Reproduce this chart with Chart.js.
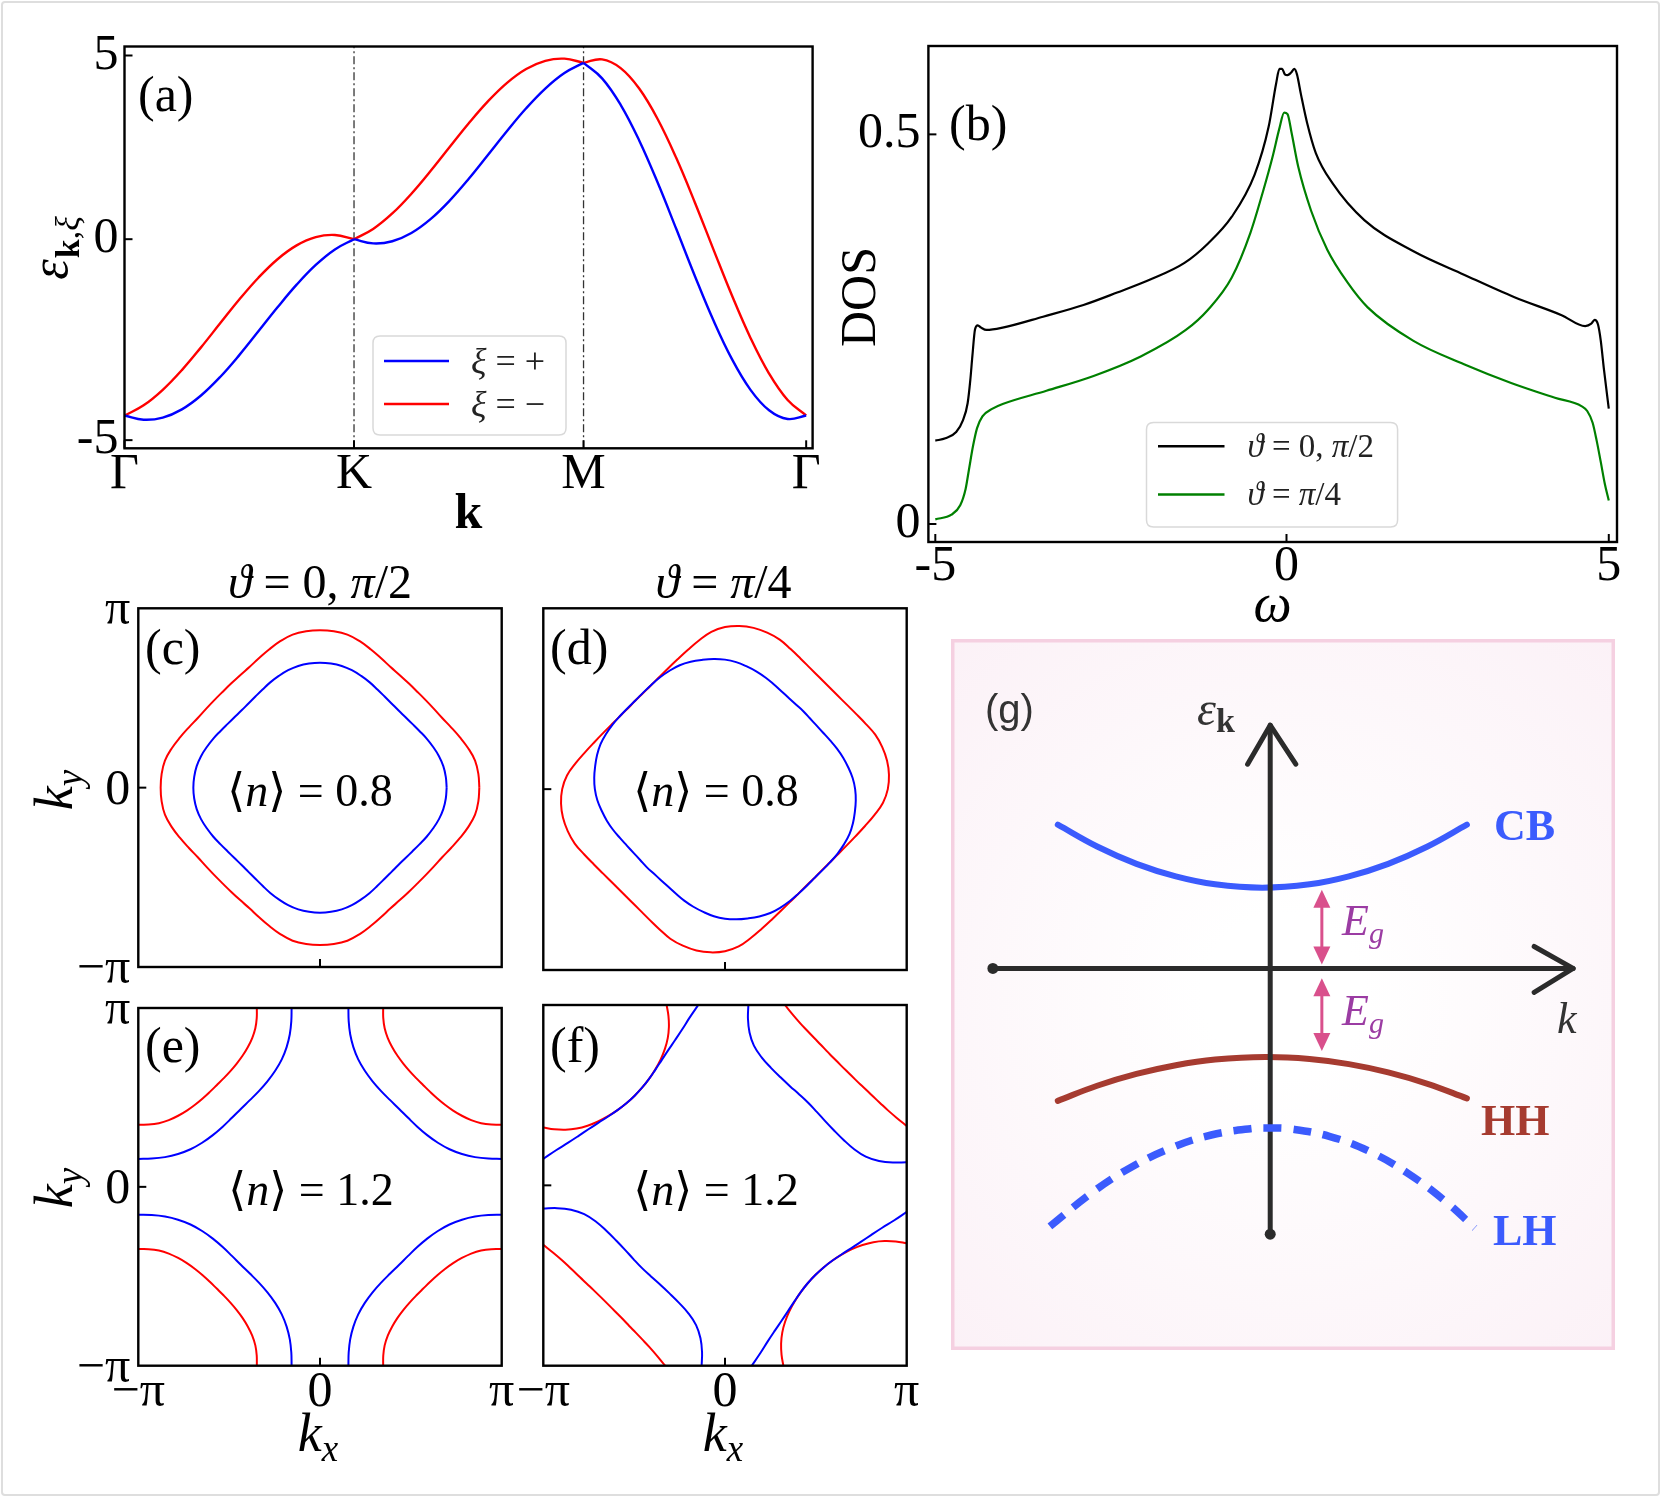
<!DOCTYPE html>
<html>
<head>
<meta charset="utf-8">
<title>Band structure, DOS and Fermi surfaces</title>
<script src="https://cdn.jsdelivr.net/npm/chart.js@4.4.1/dist/chart.umd.min.js"></script>
<style>
html,body{margin:0;padding:0;background:#ffffff;}
body{position:relative;width:1661px;height:1497px;overflow:hidden;}
#frame{position:absolute;left:1px;top:1px;width:1655px;height:1491px;border:2px solid #dedede;border-radius:4px;}
canvas{position:absolute;}
</style>
</head>
<body>
<div id="frame"></div>
<canvas id="ca" width="840" height="545" style="left:0px;top:0px;width:840px;height:545px"></canvas>
<canvas id="cb" width="821" height="640" style="left:840px;top:0px;width:821px;height:640px"></canvas>
<canvas id="cc" width="520" height="450" style="left:0px;top:555px;width:520px;height:450px"></canvas>
<canvas id="cd" width="400" height="450" style="left:520px;top:555px;width:400px;height:450px"></canvas>
<canvas id="ce" width="520" height="527" style="left:0px;top:970px;width:520px;height:527px"></canvas>
<canvas id="cf" width="430" height="527" style="left:500px;top:970px;width:430px;height:527px"></canvas>
<canvas id="cg" width="664" height="711" style="left:951px;top:639px;width:664px;height:711px"></canvas>
<script>
// ---------------- DATA ----------------
// (a) band structure along Γ-K-M-Γ
const aXTicks = [0, 1, 2, 2.97];
const aXLabels = ['Γ', 'K', 'M', 'Γ'];
const aYTicks = [-5.47, 0, 5];
const aYLabels = ['-5', '0', '5'];
const aXMax = 2.998, aYMin = -5.692, aYMax = 5.245;
const bandK = [0,0.0833,0.1667,0.25,0.3333,0.4167,0.5,0.5833,0.6667,0.75,0.8333,0.9167,1,
  1.0833,1.1667,1.25,1.3333,1.4167,1.5,1.5833,1.6667,1.75,1.8333,1.9167,2,
  2.0808,2.1617,2.2425,2.3233,2.4042,2.485,2.5658,2.6467,2.7275,2.8083,2.8892,2.97];
const bandPlus = [-4.8,-4.914,-4.856,-4.632,-4.255,-3.751,-3.156,-2.509,-1.855,-1.238,-0.7,-0.278,0,
  -0.114,-0.056,0.168,0.545,1.049,1.644,2.291,2.945,3.563,4.1,4.523,4.8,
  4.378,3.657,2.687,1.534,0.276,-1.0,-2.208,-3.266,-4.101,-4.657,-4.895,-4.8];
const bandMinus = [-4.8,-4.523,-4.1,-3.563,-2.945,-2.291,-1.644,-1.049,-0.545,-0.169,0.056,0.114,0,
  0.278,0.7,1.238,1.855,2.509,3.156,3.751,4.255,4.632,4.856,4.914,4.8,
  4.895,4.657,4.101,3.266,2.208,1.0,-0.276,-1.534,-2.687,-3.657,-4.378,-4.8];

// (b) density of states
const bXTicks = [-5, 0.2146, 5];
const bXLabels = ['-5', '0', '5'];
const bYTicks = [0, 0.5];
const bYLabels = ['0', '0.5'];
const bXMin = -5.1025, bXMax = 5.122, bYMin = -0.0231, bYMax = 0.6134;
const dosBlackW = [-5.0,-4.85,-4.69,-4.59,-4.52,-4.48,-4.45,-4.41,-4.37,-4.32,-4.24,-4.0,-3.4,-2.8,-2.3,-1.8,-1.3,-0.95,-0.6,-0.26,-0.05,0.06,0.11,0.15,0.19,0.23,0.28,0.33,0.37,0.43,0.52,0.65,0.9,1.37,2.1,2.85,3.6,4.3,4.65,4.74,4.79,4.84,4.88,4.93,5.0];
const dosBlack  = [0.107,0.110,0.118,0.133,0.155,0.185,0.215,0.250,0.255,0.252,0.249,0.252,0.266,0.281,0.297,0.314,0.335,0.360,0.394,0.448,0.510,0.565,0.584,0.584,0.577,0.576,0.579,0.584,0.577,0.551,0.515,0.476,0.437,0.390,0.350,0.320,0.291,0.268,0.254,0.257,0.262,0.256,0.236,0.197,0.148];
const dosGreenW = [-5.0,-4.76,-4.63,-4.55,-4.5,-4.44,-4.38,-4.3,-4.15,-4.0,-3.35,-2.65,-1.95,-1.28,-0.95,-0.6,-0.32,-0.13,0.01,0.11,0.18,0.23,0.29,0.39,0.58,0.82,1.12,1.42,2.1,2.85,3.55,4.2,4.6,4.68,4.76,4.82,4.88,4.94,5.0];
const dosGreen  = [0.006,0.012,0.024,0.045,0.070,0.100,0.123,0.138,0.148,0.154,0.171,0.190,0.215,0.249,0.275,0.316,0.374,0.428,0.472,0.508,0.528,0.526,0.502,0.458,0.402,0.352,0.310,0.278,0.235,0.205,0.181,0.162,0.151,0.145,0.130,0.107,0.080,0.052,0.030];

// (c)-(f) Fermi surfaces, [kx, ky]
const kTicks = [-Math.PI, 0, Math.PI];
const kLabels = ['\u2212π', '0', 'π'];
const fsC_minus = [[2.755,0],[2.738,0.240],[2.681,0.473],[2.565,0.687],[2.420,0.881],[2.266,1.057],[2.113,1.220],[1.970,1.380],[1.827,1.533],[1.681,1.681],[1.533,1.827],[1.380,1.970],[1.220,2.113],[1.057,2.266],[0.881,2.420],[0.687,2.565],[0.473,2.681],[0.240,2.738],[0,2.755],
 [-0.240,2.738],[-0.473,2.681],[-0.687,2.565],[-0.881,2.420],[-1.057,2.266],[-1.220,2.113],[-1.380,1.970],[-1.533,1.827],[-1.681,1.681],[-1.827,1.533],[-1.970,1.380],[-2.113,1.220],[-2.266,1.057],[-2.420,0.881],[-2.565,0.687],[-2.681,0.473],[-2.738,0.240],[-2.755,0],
 [-2.738,-0.240],[-2.681,-0.473],[-2.565,-0.687],[-2.420,-0.881],[-2.266,-1.057],[-2.113,-1.220],[-1.970,-1.380],[-1.827,-1.533],[-1.681,-1.681],[-1.533,-1.827],[-1.380,-1.970],[-1.220,-2.113],[-1.057,-2.266],[-0.881,-2.420],[-0.687,-2.565],[-0.473,-2.681],[-0.240,-2.738],[0,-2.755],
 [0.240,-2.738],[0.473,-2.681],[0.687,-2.565],[0.881,-2.420],[1.057,-2.266],[1.220,-2.113],[1.380,-1.970],[1.533,-1.827],[1.681,-1.681],[1.827,-1.533],[1.970,-1.380],[2.113,-1.220],[2.266,-1.057],[2.420,-0.881],[2.565,-0.687],[2.681,-0.473],[2.738,-0.240],[2.755,0]];
const fsC_plus = [[2.19,0],[2.175,0.190],[2.132,0.376],[2.057,0.551],[1.957,0.712],[1.844,0.860],[1.719,0.993],[1.596,1.117],[1.475,1.237],[1.355,1.355],[1.237,1.475],[1.117,1.596],[0.993,1.719],[0.860,1.844],[0.712,1.957],[0.551,2.057],[0.376,2.132],[0.190,2.175],[0,2.19],
 [-0.190,2.175],[-0.376,2.132],[-0.551,2.057],[-0.712,1.957],[-0.860,1.844],[-0.993,1.719],[-1.117,1.596],[-1.237,1.475],[-1.355,1.355],[-1.475,1.237],[-1.596,1.117],[-1.719,0.993],[-1.844,0.860],[-1.957,0.712],[-2.057,0.551],[-2.132,0.376],[-2.175,0.190],[-2.19,0],
 [-2.175,-0.190],[-2.132,-0.376],[-2.057,-0.551],[-1.957,-0.712],[-1.844,-0.860],[-1.719,-0.993],[-1.596,-1.117],[-1.475,-1.237],[-1.355,-1.355],[-1.237,-1.475],[-1.117,-1.596],[-0.993,-1.719],[-0.860,-1.844],[-0.712,-1.957],[-0.551,-2.057],[-0.376,-2.132],[-0.190,-2.175],[0,-2.19],
 [0.190,-2.175],[0.376,-2.132],[0.551,-2.057],[0.712,-1.957],[0.860,-1.844],[0.993,-1.719],[1.117,-1.596],[1.237,-1.475],[1.355,-1.355],[1.475,-1.237],[1.596,-1.117],[1.719,-0.993],[1.844,-0.860],[1.957,-0.712],[2.057,-0.551],[2.132,-0.376],[2.175,-0.190],[2.19,0]];
const fsD_minus = [[1.545,-1.545],[1.634,-1.45],[1.784,-1.30],[1.934,-1.15],[2.092,-0.99],[2.255,-0.82],[2.421,-0.64],[2.582,-0.451],[2.732,-0.236],[2.815,0],[2.835,0.249],[2.802,0.494],[2.719,0.729],[2.598,0.946],[2.433,1.135],[2.266,1.308],[2.102,1.472],[1.943,1.631],[1.787,1.787],
 [1.631,1.943],[1.472,2.102],[1.308,2.266],[1.135,2.433],[0.946,2.598],[0.729,2.719],[0.494,2.802],[0.249,2.835],[0,2.815],[-0.236,2.732],[-0.451,2.582],[-0.64,2.421],[-0.82,2.255],[-0.99,2.092],[-1.15,1.934],[-1.30,1.784],[-1.45,1.634],[-1.545,1.545],
 [-1.634,1.45],[-1.784,1.30],[-1.934,1.15],[-2.092,0.99],[-2.255,0.82],[-2.421,0.64],[-2.582,0.451],[-2.732,0.236],[-2.815,0],[-2.835,-0.249],[-2.802,-0.494],[-2.719,-0.729],[-2.598,-0.946],[-2.433,-1.135],[-2.266,-1.308],[-2.102,-1.472],[-1.943,-1.631],[-1.787,-1.787],
 [-1.631,-1.943],[-1.472,-2.102],[-1.308,-2.266],[-1.135,-2.433],[-0.946,-2.598],[-0.729,-2.719],[-0.494,-2.802],[-0.249,-2.835],[0,-2.815],[0.236,-2.732],[0.451,-2.582],[0.64,-2.421],[0.82,-2.255],[0.99,-2.092],[1.15,-1.934],[1.30,-1.784],[1.45,-1.634],[1.545,-1.545]];
const fsD_plus = [[1.545,-1.545],[1.681,-1.411],[1.815,-1.271],[1.944,-1.1225],[2.057,-0.959],[2.152,-0.783],[2.212,-0.593],[2.245,-0.396],[2.261,-0.198],[2.25,0],[2.207,0.193],[2.132,0.376],[2.043,0.547],[1.936,0.705],[1.817,0.847],[1.697,0.98],[1.581,1.107],[1.467,1.231],[1.354,1.354],
 [1.231,1.467],[1.107,1.581],[0.98,1.697],[0.847,1.817],[0.705,1.936],[0.547,2.043],[0.376,2.132],[0.193,2.207],[0,2.25],[-0.198,2.261],[-0.396,2.245],[-0.593,2.212],[-0.783,2.152],[-0.959,2.057],[-1.1225,1.944],[-1.271,1.815],[-1.411,1.681],[-1.545,1.545],
 [-1.681,1.411],[-1.815,1.271],[-1.944,1.1225],[-2.057,0.959],[-2.152,0.783],[-2.212,0.593],[-2.245,0.396],[-2.261,0.198],[-2.25,0],[-2.207,-0.193],[-2.132,-0.376],[-2.043,-0.547],[-1.936,-0.705],[-1.817,-0.847],[-1.697,-0.98],[-1.581,-1.107],[-1.467,-1.231],[-1.354,-1.354],
 [-1.231,-1.467],[-1.107,-1.581],[-0.98,-1.697],[-0.847,-1.817],[-0.705,-1.936],[-0.547,-2.043],[-0.376,-2.132],[-0.193,-2.207],[0,-2.25],[0.198,-2.261],[0.396,-2.245],[0.593,-2.212],[0.783,-2.152],[0.959,-2.057],[1.1225,-1.944],[1.271,-1.815],[1.411,-1.681],[1.545,-1.545]];
const fsE_plus = [
 [[-0.491,3.142],[-0.496,2.910],[-0.522,2.680],[-0.577,2.455],[-0.661,2.239],[-0.775,2.038],[-0.909,1.853],[-1.057,1.682],[-1.213,1.523],[-1.369,1.369],[-1.523,1.213],[-1.682,1.057],[-1.853,0.909],[-2.038,0.775],[-2.239,0.661],[-2.455,0.577],[-2.680,0.522],[-2.910,0.496],[-3.142,0.491]],
 [[0.491,3.142],[0.496,2.910],[0.522,2.680],[0.577,2.455],[0.661,2.239],[0.775,2.038],[0.909,1.853],[1.057,1.682],[1.213,1.523],[1.369,1.369],[1.523,1.213],[1.682,1.057],[1.853,0.909],[2.038,0.775],[2.239,0.661],[2.455,0.577],[2.680,0.522],[2.910,0.496],[3.142,0.491]],
 [[-0.491,-3.142],[-0.496,-2.910],[-0.522,-2.680],[-0.577,-2.455],[-0.661,-2.239],[-0.775,-2.038],[-0.909,-1.853],[-1.057,-1.682],[-1.213,-1.523],[-1.369,-1.369],[-1.523,-1.213],[-1.682,-1.057],[-1.853,-0.909],[-2.038,-0.775],[-2.239,-0.661],[-2.455,-0.577],[-2.680,-0.522],[-2.910,-0.496],[-3.142,-0.491]],
 [[0.491,-3.142],[0.496,-2.910],[0.522,-2.680],[0.577,-2.455],[0.661,-2.239],[0.775,-2.038],[0.909,-1.853],[1.057,-1.682],[1.213,-1.523],[1.369,-1.369],[1.523,-1.213],[1.682,-1.057],[1.853,-0.909],[2.038,-0.775],[2.239,-0.661],[2.455,-0.577],[2.680,-0.522],[2.910,-0.496],[3.142,-0.491]]];
const fsE_minus = [
 [[-1.092,3.142],[-1.094,2.963],[-1.118,2.785],[-1.172,2.614],[-1.249,2.453],[-1.340,2.302],[-1.443,2.161],[-1.553,2.029],[-1.668,1.905],[-1.786,1.786],[-1.905,1.668],[-2.029,1.553],[-2.161,1.443],[-2.302,1.340],[-2.453,1.249],[-2.614,1.172],[-2.785,1.118],[-2.963,1.094],[-3.142,1.092]],
 [[1.092,3.142],[1.094,2.963],[1.118,2.785],[1.172,2.614],[1.249,2.453],[1.340,2.302],[1.443,2.161],[1.553,2.029],[1.668,1.905],[1.786,1.786],[1.905,1.668],[2.029,1.553],[2.161,1.443],[2.302,1.340],[2.453,1.249],[2.614,1.172],[2.785,1.118],[2.963,1.094],[3.142,1.092]],
 [[-1.092,-3.142],[-1.094,-2.963],[-1.118,-2.785],[-1.172,-2.614],[-1.249,-2.453],[-1.340,-2.302],[-1.443,-2.161],[-1.553,-2.029],[-1.668,-1.905],[-1.786,-1.786],[-1.905,-1.668],[-2.029,-1.553],[-2.161,-1.443],[-2.302,-1.340],[-2.453,-1.249],[-2.614,-1.172],[-2.785,-1.118],[-2.963,-1.094],[-3.142,-1.092]],
 [[1.092,-3.142],[1.094,-2.963],[1.118,-2.785],[1.172,-2.614],[1.249,-2.453],[1.340,-2.302],[1.443,-2.161],[1.553,-2.029],[1.668,-1.905],[1.786,-1.786],[1.905,-1.668],[2.029,-1.553],[2.161,-1.443],[2.302,-1.340],[2.453,-1.249],[2.614,-1.172],[2.785,-1.118],[2.963,-1.094],[3.142,-1.092]]];
const fsF_plus = [
 [[-0.462,3.142],[-0.612,2.921],[-0.739,2.718],[-0.862,2.531],[-0.981,2.355],[-1.092,2.186],[-1.200,2.021],[-1.310,1.859],[-1.430,1.705],[-1.562,1.562],[-1.705,1.430],[-1.859,1.310],[-2.021,1.200],[-2.186,1.092],[-2.355,0.981],[-2.531,0.862],[-2.718,0.739],[-2.921,0.612],[-3.142,0.462]],
 [[0.404,3.142],[0.397,2.902],[0.424,2.663],[0.500,2.434],[0.633,2.229],[0.795,2.047],[0.960,1.882],[1.123,1.728],[1.284,1.583],[1.438,1.438],[1.583,1.284],[1.728,1.123],[1.882,0.960],[2.047,0.795],[2.229,0.633],[2.434,0.500],[2.663,0.424],[2.902,0.397],[3.142,0.404]],
 [[-0.404,-3.142],[-0.397,-2.902],[-0.424,-2.663],[-0.500,-2.434],[-0.633,-2.229],[-0.795,-2.047],[-0.960,-1.882],[-1.123,-1.728],[-1.284,-1.583],[-1.438,-1.438],[-1.583,-1.284],[-1.728,-1.123],[-1.882,-0.960],[-2.047,-0.795],[-2.229,-0.633],[-2.434,-0.500],[-2.663,-0.424],[-2.902,-0.397],[-3.142,-0.404]],
 [[0.462,-3.142],[0.612,-2.921],[0.739,-2.718],[0.862,-2.531],[0.981,-2.355],[1.092,-2.186],[1.200,-2.021],[1.310,-1.859],[1.430,-1.705],[1.562,-1.562],[1.705,-1.430],[1.859,-1.310],[2.021,-1.200],[2.186,-1.092],[2.355,-0.981],[2.531,-0.862],[2.718,-0.739],[2.921,-0.612],[3.142,-0.462]]];
const fsF_minus = [
 [[-1.009,3.142],[-0.978,2.953],[-0.970,2.759],[-0.990,2.565],[-1.039,2.377],[-1.112,2.195],[-1.204,2.023],[-1.310,1.859],[-1.430,1.705],[-1.562,1.562],[-1.705,1.430],[-1.859,1.310],[-2.023,1.204],[-2.195,1.112],[-2.377,1.039],[-2.565,0.990],[-2.759,0.970],[-2.953,0.978],[-3.142,1.009]],
 [[1.035,3.142],[1.175,2.970],[1.306,2.818],[1.431,2.684],[1.547,2.562],[1.656,2.449],[1.756,2.342],[1.855,2.241],[1.952,2.143],[2.047,2.047],[2.143,1.952],[2.241,1.855],[2.342,1.756],[2.449,1.656],[2.562,1.547],[2.684,1.431],[2.818,1.306],[2.970,1.175],[3.142,1.035]],
 [[-1.035,-3.142],[-1.175,-2.970],[-1.306,-2.818],[-1.431,-2.684],[-1.547,-2.562],[-1.656,-2.449],[-1.756,-2.342],[-1.855,-2.241],[-1.952,-2.143],[-2.047,-2.047],[-2.143,-1.952],[-2.241,-1.855],[-2.342,-1.756],[-2.449,-1.656],[-2.562,-1.547],[-2.684,-1.431],[-2.818,-1.306],[-2.970,-1.175],[-3.142,-1.035]],
 [[1.009,-3.142],[0.978,-2.953],[0.970,-2.759],[0.990,-2.565],[1.039,-2.377],[1.112,-2.195],[1.204,-2.023],[1.310,-1.859],[1.430,-1.705],[1.562,-1.562],[1.705,-1.430],[1.859,-1.310],[2.023,-1.204],[2.195,-1.112],[2.377,-1.039],[2.565,-0.990],[2.759,-0.970],[2.953,-0.978],[3.142,-1.009]]];

// (g) schematic bands
const gXMin = -3.19, gXMax = 3.45, gYMin = -3.82, gYMax = 3.29;
const gCBk = [-2.16,-1.76,-1.36,-0.96,-0.56,-0.08,0.40,0.80,1.20,1.60,2.00];
const gCBe = [1.46,1.238,1.062,0.935,0.854,0.82,0.854,0.935,1.062,1.238,1.46];
const gHHk = [-2.16,-1.76,-1.36,-0.96,-0.56,-0.05,0.40,0.80,1.20,1.60,2.00];
const gHHe = [-1.345,-1.192,-1.072,-0.983,-0.926,-0.90,-0.92,-0.972,-1.056,-1.172,-1.32];
const gLHk = [-2.24,-1.8,-1.4,-1.0,-0.6,-0.2,0,0.2,0.6,1.0,1.4,1.8,2.08];
const gLHe = [-2.62,-2.268,-2.012,-1.82,-1.692,-1.628,-1.62,-1.629,-1.705,-1.855,-2.081,-2.381,-2.637];
const gAxisK = [-2.82, 3.08];
const gAxisE = [-2.70, 2.47];
const gGapK = 0.525;
const gGapUp = [0.80, 0.04];
const gGapDown = [-0.10, -0.84];

// ---------------- HELPERS ----------------
const SERIF = "'Liberation Serif','DejaVu Serif',serif";
const TICKF = {family: SERIF, size: 50};
Chart.defaults.font.family = SERIF;
const BLUE = '#0000ff', RED = '#ff0000';

function xy(xs, ys) { return xs.map((x, i) => ({x: x, y: ys[i]})); }
function pts(a) { return a.map(p => ({x: p[0], y: p[1]})); }
function tickSetter(vals) { return s => { s.ticks = vals.map(v => ({value: v})); }; }

function drawRuns(ctx, x, y, parts, align) {
  let total = 0;
  const ws = parts.map(p => { ctx.font = p.f; const w = ctx.measureText(p.t).width + (p.sp || 0); total += w; return w; });
  let cx = align === 'center' ? x - total / 2 : (align === 'right' ? x - total : x);
  ctx.textAlign = 'left';
  parts.forEach((p, i) => { ctx.font = p.f; if (p.c) ctx.fillStyle = p.c; ctx.fillText(p.t, cx, y + (p.dy || 0)); cx += ws[i]; });
}
function rr(ctx, x, y, w, h, r) {
  ctx.beginPath();
  ctx.moveTo(x + r, y); ctx.lineTo(x + w - r, y); ctx.quadraticCurveTo(x + w, y, x + w, y + r);
  ctx.lineTo(x + w, y + h - r); ctx.quadraticCurveTo(x + w, y + h, x + w - r, y + h);
  ctx.lineTo(x + r, y + h); ctx.quadraticCurveTo(x, y + h, x, y + h - r);
  ctx.lineTo(x, y + r); ctx.quadraticCurveTo(x, y, x + r, y); ctx.closePath();
}
function legendBox(ctx, x, y, w, h, items) {
  ctx.save();
  ctx.fillStyle = 'rgba(255,255,255,0.9)'; ctx.strokeStyle = '#d9d9d9'; ctx.lineWidth = 1.5;
  rr(ctx, x, y, w, h, 7); ctx.fill(); ctx.stroke();
  items.forEach(it => {
    ctx.strokeStyle = it.c; ctx.lineWidth = it.lw;
    ctx.beginPath(); ctx.moveTo(it.x0, it.ly); ctx.lineTo(it.x1, it.ly); ctx.stroke();
    ctx.fillStyle = '#222'; drawRuns(ctx, it.tx, it.ty, it.runs, 'left');
  });
  ctx.restore();
}
function framePlugin(o) {
  return {
    id: 'frame_' + o.id,
    afterDraw(chart) {
      const ctx = chart.ctx, a = chart.chartArea, sx = chart.scales.x, sy = chart.scales.y;
      ctx.save();
      ctx.strokeStyle = '#000'; ctx.lineWidth = 2.4;
      ctx.strokeRect(a.left, a.top, a.right - a.left, a.bottom - a.top);
      ctx.lineWidth = 2;
      (o.xt || []).forEach(v => { const px = sx.getPixelForValue(v); ctx.beginPath(); ctx.moveTo(px, a.bottom); ctx.lineTo(px, a.bottom - 8); ctx.stroke(); });
      (o.yt || []).forEach(v => { const py = sy.getPixelForValue(v); ctx.beginPath(); ctx.moveTo(a.left, py); ctx.lineTo(a.left + 8, py); ctx.stroke(); });
      ctx.fillStyle = '#000'; ctx.textBaseline = 'alphabetic';
      if (o.text) o.text(ctx, chart);
      ctx.restore();
    }
  };
}
function kScale(opts) {
  return {
    type: 'linear', bounds: 'data', min: -Math.PI, max: Math.PI,
    grid: {display: false, drawTicks: false}, border: {display: false},
    afterBuildTicks: tickSetter(kTicks),
    afterFit: opts.fit,
    ticks: {display: opts.labels, font: TICKF, color: '#000', padding: opts.pad, maxRotation: 0, autoSkip: false,
      labelOffset: opts.off || 0, callback: (v, i) => kLabels[i]}
  };
}
const baseOpts = {responsive: false, animation: false, events: [],
  plugins: {legend: {display: false}, tooltip: {enabled: false}},
  elements: {point: {radius: 0}}};

function fsSet(arr, color) {
  return {data: pts(arr), borderColor: color, borderWidth: 2, showLine: true, pointRadius: 0, tension: 0.4, fill: false};
}
const nText = (val) => [{t: '⟨', f: `46px ${SERIF}`}, {t: 'n', f: `italic 46px ${SERIF}`}, {t: '⟩', f: `46px ${SERIF}`}, {t: ' = ' + val, f: `46px ${SERIF}`}];
const kLabel = (sub) => [{t: 'k', f: `italic 54px ${SERIF}`}, {t: sub, f: `italic 37px ${SERIF}`, dy: 10}];
const thetaTitle = (tail) => [{t: 'ϑ', f: `italic 48px ${SERIF}`}, {t: tail[0], f: `48px ${SERIF}`}, {t: 'π', f: `italic 48px ${SERIF}`}, {t: tail[1], f: `48px ${SERIF}`}];

// ---------------- (a) ----------------
(function () {
  const segs = [[0, 13], [12, 25], [24, 37]];
  const sets = [];
  segs.forEach(s => {
    sets.push({data: xy(bandK.slice(s[0], s[1]), bandPlus.slice(s[0], s[1])), borderColor: BLUE, borderWidth: 2.4, showLine: true, pointRadius: 0, tension: 0.4});
    sets.push({data: xy(bandK.slice(s[0], s[1]), bandMinus.slice(s[0], s[1])), borderColor: RED, borderWidth: 2.4, showLine: true, pointRadius: 0, tension: 0.4});
  });
  [1, 2].forEach(k => sets.push({data: [{x: aXTicks[k], y: aYMin}, {x: aXTicks[k], y: aYMax}], borderColor: '#333', borderWidth: 1.3, borderDash: [8, 3, 2, 3], showLine: true, pointRadius: 0}));
  new Chart(document.getElementById('ca'), {
    type: 'scatter',
    data: {datasets: sets},
    options: Object.assign({}, baseOpts, {
      layout: {padding: {left: 0, top: 46.5, right: 27.4, bottom: 0}},
      scales: {
        x: {type: 'linear', bounds: 'data', min: 0, max: aXMax, grid: {display: false, drawTicks: false}, border: {display: false},
          afterBuildTicks: tickSetter(aXTicks), afterFit: s => { s.height = 96.7; },
          ticks: {font: TICKF, color: '#000', padding: -3, maxRotation: 0, autoSkip: false, callback: (v, i) => aXLabels[i]}},
        y: {type: 'linear', bounds: 'data', min: aYMin, max: aYMax, grid: {display: false, drawTicks: false}, border: {display: false},
          afterBuildTicks: tickSetter(aYTicks), afterFit: s => { s.width = 124.5; },
          ticks: {font: TICKF, color: '#000', padding: 6, autoSkip: false, callback: (v, i) => aYLabels[i]}}
      }
    }),
    plugins: [framePlugin({id: 'a', xt: aXTicks, yt: aYTicks, text: (ctx) => {
      ctx.font = `50px ${SERIF}`; ctx.textAlign = 'left'; ctx.fillText('(a)', 138, 111);
      ctx.font = `bold 50px ${SERIF}`; ctx.textAlign = 'center'; ctx.fillText('k', 468.5, 528);
      ctx.save(); ctx.translate(67, 248); ctx.rotate(-Math.PI / 2);
      drawRuns(ctx, 0, 0, [{t: 'ε', f: `italic 52px ${SERIF}`, sp: 1}, {t: 'k', f: `bold 34px ${SERIF}`, dy: 12}, {t: ',', f: `34px ${SERIF}`, dy: 12}, {t: 'ξ', f: `italic 34px ${SERIF}`, dy: 12}], 'center');
      ctx.restore();
      legendBox(ctx, 373, 336, 193, 99, [
        {c: BLUE, lw: 2.6, x0: 384, x1: 449, ly: 361, tx: 471, ty: 373, runs: [{t: 'ξ', f: `italic 36px ${SERIF}`}, {t: ' = +', f: `36px ${SERIF}`}]},
        {c: RED, lw: 2.6, x0: 384, x1: 449, ly: 404, tx: 471, ty: 416, runs: [{t: 'ξ', f: `italic 36px ${SERIF}`}, {t: ' = \u2212', f: `36px ${SERIF}`}]}
      ]);
    }})]
  });
})();

// ---------------- (b) ----------------
new Chart(document.getElementById('cb'), {
  type: 'scatter',
  data: {datasets: [
    {data: xy(dosBlackW, dosBlack), borderColor: '#000000', borderWidth: 2.2, showLine: true, pointRadius: 0, cubicInterpolationMode: 'monotone'},
    {data: xy(dosGreenW, dosGreen), borderColor: '#008000', borderWidth: 2.2, showLine: true, pointRadius: 0, cubicInterpolationMode: 'monotone'}
  ]},
  options: Object.assign({}, baseOpts, {
    layout: {padding: {left: 0, top: 46, right: 44, bottom: 0}},
    scales: {
      x: {type: 'linear', bounds: 'data', min: bXMin, max: bXMax, grid: {display: false, drawTicks: false}, border: {display: false},
        afterBuildTicks: tickSetter(bXTicks), afterFit: s => { s.height = 98; },
        ticks: {font: TICKF, color: '#000', padding: -5, maxRotation: 0, autoSkip: false, callback: (v, i) => bXLabels[i]}},
      y: {type: 'linear', bounds: 'data', min: bYMin, max: bYMax, grid: {display: false, drawTicks: false}, border: {display: false},
        afterBuildTicks: tickSetter(bYTicks), afterFit: s => { s.width = 88.4; },
        ticks: {font: TICKF, color: '#000', padding: 8, autoSkip: false, callback: (v, i) => bYLabels[i]}}
    }
  }),
  plugins: [framePlugin({id: 'b', xt: bXTicks, yt: bYTicks, text: (ctx) => {
    ctx.font = `50px ${SERIF}`; ctx.textAlign = 'left'; ctx.fillText('(b)', 109, 140);
    ctx.save(); ctx.translate(35, 297); ctx.rotate(-Math.PI / 2);
    ctx.font = `50px ${SERIF}`; ctx.textAlign = 'center'; ctx.fillText('DOS', 0, 0);
    ctx.restore();
    ctx.font = `italic 54px ${SERIF}`; ctx.textAlign = 'center'; ctx.fillText('ω', 432.5, 621);
    legendBox(ctx, 306.5, 422.4, 251.1, 104.7, [
      {c: '#000', lw: 2.4, x0: 318, x1: 384.5, ly: 446.3, tx: 407.5, ty: 457, runs: [{t: 'ϑ', f: `italic 33px ${SERIF}`}, {t: ' = 0, ', f: `33px ${SERIF}`}, {t: 'π', f: `italic 33px ${SERIF}`}, {t: '/2', f: `33px ${SERIF}`}]},
      {c: '#008000', lw: 2.4, x0: 318, x1: 384.5, ly: 494.5, tx: 407.5, ty: 505, runs: [{t: 'ϑ', f: `italic 33px ${SERIF}`}, {t: ' = ', f: `33px ${SERIF}`}, {t: 'π', f: `italic 33px ${SERIF}`}, {t: '/4', f: `33px ${SERIF}`}]}
    ]);
  }})]
});

// ---------------- (c) ----------------
new Chart(document.getElementById('cc'), {
  type: 'scatter',
  data: {datasets: [fsSet(fsC_plus, BLUE), fsSet(fsC_minus, RED)]},
  options: Object.assign({}, baseOpts, {
    layout: {padding: {left: 0, top: 53.3, right: 18.3, bottom: 0}},
    scales: {x: kScale({labels: false, pad: 0, fit: s => { s.height = 35; }}),
             y: kScale({labels: true, pad: 8, off: 3, fit: s => { s.width = 138.3; }})}
  }),
  plugins: [framePlugin({id: 'c', xt: [0], yt: [0], text: (ctx) => {
    ctx.font = `50px ${SERIF}`; ctx.textAlign = 'left'; ctx.fillText('(c)', 145, 109);
    drawRuns(ctx, 310, 251, nText('0.8'), 'center');
    drawRuns(ctx, 320, 43, thetaTitle([' = 0, ', '/2']), 'center');
    ctx.save(); ctx.translate(72, 235); ctx.rotate(-Math.PI / 2); drawRuns(ctx, 0, 0, kLabel('y'), 'center'); ctx.restore();
  }})]
});

// ---------------- (d) ----------------
new Chart(document.getElementById('cd'), {
  type: 'scatter',
  data: {datasets: [fsSet(fsD_plus, BLUE), fsSet(fsD_minus, RED)]},
  options: Object.assign({}, baseOpts, {
    layout: {padding: {left: 0, top: 53.3, right: 13.3, bottom: 0}},
    scales: {x: kScale({labels: false, pad: 0, fit: s => { s.height = 35; }}),
             y: kScale({labels: false, pad: 0, fit: s => { s.width = 23.3; }})}
  }),
  plugins: [framePlugin({id: 'd', xt: [0], yt: [0], text: (ctx) => {
    ctx.font = `50px ${SERIF}`; ctx.textAlign = 'left'; ctx.fillText('(d)', 30, 109);
    drawRuns(ctx, 196, 251, nText('0.8'), 'center');
    drawRuns(ctx, 203.6, 43, thetaTitle([' = ', '/4']), 'center');
  }})]
});

// ---------------- (e) ----------------
new Chart(document.getElementById('ce'), {
  type: 'scatter',
  data: {datasets: fsE_plus.map(a => fsSet(a, BLUE)).concat(fsE_minus.map(a => fsSet(a, RED)))},
  options: Object.assign({}, baseOpts, {
    layout: {padding: {left: 0, top: 35, right: 18.3, bottom: 0}},
    scales: {x: kScale({labels: true, pad: -3, fit: s => { s.height = 131.3; }}),
             y: kScale({labels: true, pad: 8, off: 3, fit: s => { s.width = 138.3; }})}
  }),
  plugins: [framePlugin({id: 'e', xt: [0], yt: [0], text: (ctx) => {
    ctx.font = `50px ${SERIF}`; ctx.textAlign = 'left'; ctx.fillText('(e)', 145, 92);
    drawRuns(ctx, 311, 235, nText('1.2'), 'center');
    ctx.save(); ctx.translate(72, 218); ctx.rotate(-Math.PI / 2); drawRuns(ctx, 0, 0, kLabel('y'), 'center'); ctx.restore();
    drawRuns(ctx, 318, 481, kLabel('x'), 'center');
  }})]
});

// ---------------- (f) ----------------
new Chart(document.getElementById('cf'), {
  type: 'scatter',
  data: {datasets: fsF_plus.map(a => fsSet(a, BLUE)).concat(fsF_minus.map(a => fsSet(a, RED)))},
  options: Object.assign({}, baseOpts, {
    layout: {padding: {left: 0, top: 35, right: 23.3, bottom: 0}},
    scales: {x: kScale({labels: true, pad: -3, fit: s => { s.height = 131.3; }}),
             y: kScale({labels: false, pad: 0, fit: s => { s.width = 43.3; }})}
  }),
  plugins: [framePlugin({id: 'f', xt: [0], yt: [0], text: (ctx) => {
    ctx.font = `50px ${SERIF}`; ctx.textAlign = 'left'; ctx.fillText('(f)', 50, 92);
    drawRuns(ctx, 216, 235, nText('1.2'), 'center');
    drawRuns(ctx, 223, 481, kLabel('x'), 'center');
  }})]
});

// ---------------- (g) ----------------
(function () {
  const AX = '#2b2b2b', CB = '#3b5bfd', HH = '#a63b30', PINK = '#d9508c', PURP = '#9b3ca3';
  const lineSet = (data, color, w, extra) => Object.assign({data: data, borderColor: color, borderWidth: w, showLine: true, pointRadius: 0,
    borderCapStyle: 'round', borderJoinStyle: 'round', tension: 0.4}, extra || {});
  const sets = [
    lineSet(xy(gLHk, gLHe), CB, 7.5, {borderDash: [18, 12], borderCapStyle: 'butt'}),
    lineSet([{x: 0, y: gAxisE[0]}, {x: 0, y: gAxisE[1]}], AX, 5, {tension: 0}),
    lineSet([{x: gAxisK[0], y: 0}, {x: gAxisK[1], y: 0}], AX, 5, {tension: 0}),
    lineSet([{x: gAxisK[1] - 0.396, y: 0.223}, {x: gAxisK[1], y: 0}, {x: gAxisK[1] - 0.396, y: -0.243}], AX, 5, {tension: 0}),
    lineSet([{x: -0.23, y: gAxisE[1] - 0.396}, {x: 0, y: gAxisE[1]}, {x: 0.26, y: gAxisE[1] - 0.396}], AX, 5, {tension: 0}),
    {data: [{x: gAxisK[0], y: 0}, {x: 0, y: gAxisE[0]}], pointRadius: 5.5, pointBackgroundColor: AX, pointBorderWidth: 0, showLine: false},
    lineSet(xy(gCBk, gCBe), CB, 6),
    lineSet(xy(gHHk, gHHe), HH, 6)
  ];
  new Chart(document.getElementById('cg'), {
    type: 'scatter',
    data: {datasets: sets},
    options: Object.assign({}, baseOpts, {
      layout: {padding: 0},
      scales: {x: {type: 'linear', bounds: 'data', min: gXMin, max: gXMax, display: false},
               y: {type: 'linear', bounds: 'data', min: gYMin, max: gYMax, display: false}}
    }),
    plugins: [{
      id: 'gdeco',
      beforeDraw(chart) {
        const ctx = chart.ctx, W = chart.width, H = chart.height;
        ctx.save();
        const g = ctx.createRadialGradient(W / 2, H / 2, 80, W / 2, H / 2, 520);
        g.addColorStop(0, '#ffffff'); g.addColorStop(1, '#fbf0f6');
        ctx.fillStyle = g; ctx.fillRect(0, 0, W, H);
        ctx.strokeStyle = '#f5d0e1'; ctx.lineWidth = 3.5; ctx.strokeRect(1.75, 1.75, W - 3.5, H - 3.5);
        ctx.restore();
      },
      afterDraw(chart) {
        const ctx = chart.ctx, sx = chart.scales.x, sy = chart.scales.y;
        ctx.save();
        const arrow = (k, e1, e2) => {
          const x = sx.getPixelForValue(k), y1 = sy.getPixelForValue(e1), y2 = sy.getPixelForValue(e2);
          const h = 18, hw = 8.5;
          ctx.strokeStyle = PINK; ctx.fillStyle = PINK; ctx.lineWidth = 3;
          ctx.beginPath(); ctx.moveTo(x, y1 + h - 2); ctx.lineTo(x, y2 - h + 2); ctx.stroke();
          ctx.beginPath(); ctx.moveTo(x, y1); ctx.lineTo(x - hw, y1 + h); ctx.lineTo(x + hw, y1 + h); ctx.closePath(); ctx.fill();
          ctx.beginPath(); ctx.moveTo(x, y2); ctx.lineTo(x - hw, y2 - h); ctx.lineTo(x + hw, y2 - h); ctx.closePath(); ctx.fill();
        };
        arrow(gGapK, gGapUp[0], gGapUp[1]);
        arrow(gGapK, gGapDown[0], gGapDown[1]);
        ctx.textBaseline = 'alphabetic';
        ctx.fillStyle = '#333'; ctx.font = "40px 'Liberation Sans','DejaVu Sans',sans-serif"; ctx.textAlign = 'left';
        ctx.fillText('(g)', 34, 84);
        drawRuns(ctx, 246, 86, [{t: 'ε', f: `italic 48px ${SERIF}`, c: '#333'}, {t: 'k', f: `bold 34px ${SERIF}`, dy: 7}], 'left');
        ctx.fillStyle = '#333'; ctx.font = `italic 44px ${SERIF}`; ctx.fillText('k', 606, 394);
        ctx.font = `bold 44px ${SERIF}`;
        ctx.fillStyle = CB; ctx.fillText('CB', 543, 201);
        ctx.fillStyle = HH; ctx.fillText('HH', 530, 496);
        ctx.fillStyle = CB; ctx.fillText('LH', 542, 606);
        drawRuns(ctx, 391, 296, [{t: 'E', f: `italic 44px ${SERIF}`, c: PURP}, {t: 'g', f: `italic 30px ${SERIF}`, dy: 8}], 'left');
        drawRuns(ctx, 391, 386, [{t: 'E', f: `italic 44px ${SERIF}`, c: PURP}, {t: 'g', f: `italic 30px ${SERIF}`, dy: 8}], 'left');
        ctx.restore();
      }
    }]
  });
})();
</script>
</body>
</html>
